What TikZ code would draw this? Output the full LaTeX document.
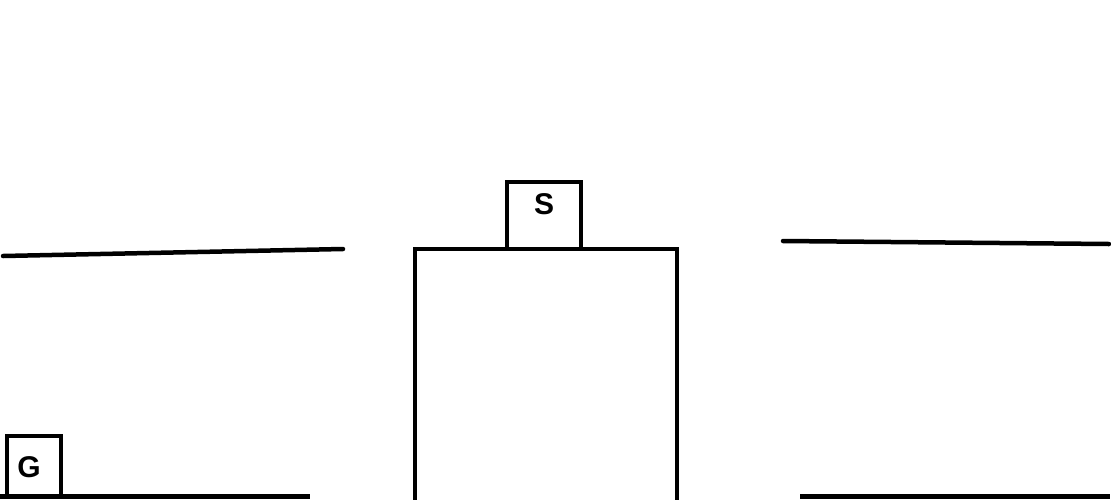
\documentclass[tikz,border=0pt]{standalone}
\usepackage{fontspec}
\setmainfont{Liberation Sans}
\begin{document}
\begin{tikzpicture}[x=1pt,y=-1pt,
  ln/.style={line width=4.5pt,line cap=round},
  edge/.style={line width=4.5pt},
  lbl/.style={font=\fontsize{30}{32}\selectfont\bfseries,inner sep=0pt}]
\useasboundingbox (0,0) rectangle (1111,499);
% upper lines
\draw[ln] (3,256) -- (343,249);
\draw[ln] (783,241) -- (1109,244);
% ground lines
\draw[edge] (0,496.5) -- (310,496.5);
\draw[edge] (800,496.5) -- (1110,496.5);
% big box (open at bottom)
\draw[edge] (415,501) -- (415,249) -- (677,249) -- (677,501);
% S box
\draw[edge] (507,249) -- (507,182) -- (581,182) -- (581,249);
\node[lbl] (S) at (544,204) {S};
% G box
\draw[edge] (7,497) -- (7,436) -- (61,436) -- (61,497);
\node[lbl] (G) at (29,467) {G};
\end{tikzpicture}
\end{document}
